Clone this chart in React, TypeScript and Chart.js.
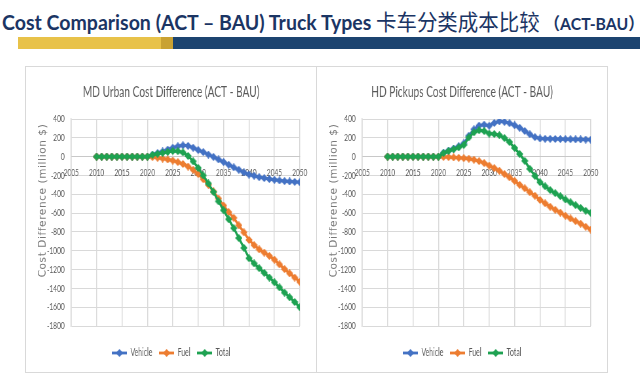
import React, { useEffect, useRef } from "react";
import { Chart, registerables } from "chart.js";

Chart.register(...registerables);

// ---------- data ----------
const years = [
  2010, 2011, 2012, 2013, 2014, 2015, 2016, 2017, 2018, 2019, 2020,
  2021, 2022, 2023, 2024, 2025, 2026, 2027, 2028, 2029, 2030,
  2031, 2032, 2033, 2034, 2035, 2036, 2037, 2038, 2039, 2040,
  2041, 2042, 2043, 2044, 2045, 2046, 2047, 2048, 2049, 2050,
];

const seriesNames = ["Vehicle", "Fuel", "Total"];

const mdVehicle = [
  0, 0, 0, 0, 0, 0, 0, 0, 0, 0, 0,
  20, 38, 55, 75, 95, 110, 120, 115, 95, 70,
  48, 22, -2, -30, -57, -86, -114, -140, -168, -190,
  -203, -218, -228, -238, -246, -253, -260, -264, -268, -272,
];
const mdFuel = [
  0, 0, 0, 0, 0, 0, 0, 0, 0, 0, 0,
  -5, -12, -20, -30, -42, -58, -78, -105, -140, -185,
  -240, -300, -370, -445, -520, -590, -650, -730, -805, -885,
  -940, -985, -1020, -1055, -1095, -1145, -1195, -1240, -1285, -1330,
];
const mdTotal = [
  0, 0, 0, 0, 0, 0, 0, 0, 0, 0, 0,
  20, 30, 40, 50, 60, 58, 45, 8, -50, -120,
  -200, -285, -375, -475, -570, -665, -760, -865, -970, -1080,
  -1135, -1185, -1235, -1285, -1335, -1390, -1445, -1495, -1545, -1600,
];

const hdVehicle = [
  0, 0, 0, 0, 0, 0, 0, 0, 0, 0, 0,
  41, 65, 86, 110, 141, 222, 290, 330, 340, 328,
  358, 375, 370, 356, 334, 307, 273, 238, 208, 193,
  190, 189, 188, 187, 186, 185, 184, 183, 182, 180,
];
const hdFuel = [
  0, 0, 0, 0, 0, 0, 0, 0, 0, 0, 0,
  -3, -5, -8, -12, -16, -22, -32, -48, -68, -95,
  -122, -150, -185, -220, -258, -300, -336, -378, -415, -460,
  -496, -532, -565, -595, -628, -657, -685, -712, -745, -775,
];
const hdTotal = [
  0, 0, 0, 0, 0, 0, 0, 0, 0, 0, 0,
  38, 60, 78, 98, 125, 205, 258, 280, 272, 245,
  240, 228, 198, 155, 92, 28, -45, -130, -205, -272,
  -315, -355, -388, -420, -455, -485, -515, -545, -575, -598,
];

const yTickMin = -1800;
const yTickMax = 400;
const yTickStep = 200;
const xTickMin = 2005;
const xTickMax = 2050;
const xTickStep = 5;

const mdTitle = "MD Urban Cost Difference (ACT - BAU)";
const hdTitle = "HD Pickups Cost Difference (ACT - BAU)";
const yAxisTitle = "Cost Difference (million $)";

// ---------- style ----------
const COLORS = ["#4472C4", "#ED7D31", "#1EA252"];
const GRID = "#d9d9d9";
const TEXT = "#595959";
const FONT = "Lato, sans-serif";
const SQ = 0.655; // horizontal squish of the chart pictures
const PANEL_W = 292;
const PANEL_H = 307;
const CW = Math.round((PANEL_W - 2) / SQ);
const CH = PANEL_H - 2;

function makeDiamond(color: string) {
  const c = document.createElement("canvas");
  c.width = 11;
  c.height = 8;
  const ctx = c.getContext("2d")!;
  ctx.fillStyle = color;
  ctx.beginPath();
  ctx.moveTo(0, 4);
  ctx.lineTo(5.5, 0);
  ctx.lineTo(11, 4);
  ctx.lineTo(5.5, 8);
  ctx.closePath();
  ctx.fill();
  return c;
}

function makeLegendIcon(color: string) {
  const c = document.createElement("canvas");
  c.width = 23;
  c.height = 8;
  const ctx = c.getContext("2d")!;
  ctx.strokeStyle = color;
  ctx.lineWidth = 2.8;
  ctx.beginPath();
  ctx.moveTo(0, 4);
  ctx.lineTo(23, 4);
  ctx.stroke();
  ctx.fillStyle = color;
  ctx.beginPath();
  ctx.moveTo(6, 4);
  ctx.lineTo(11.5, 0);
  ctx.lineTo(17, 4);
  ctx.lineTo(11.5, 8);
  ctx.closePath();
  ctx.fill();
  return c;
}

// vertical axis title, drawn un-squished so it keeps its proportions
const yTitlePlugin = {
  id: "yTitleUnsquished",
  afterDraw(chart: any) {
    const { ctx, chartArea } = chart;
    ctx.save();
    ctx.translate(chartArea.left - 43, (chartArea.top + chartArea.bottom) / 2 - 22);
    ctx.scale(1 / SQ, 1);
    ctx.rotate(-Math.PI / 2);
    ctx.font = '10.5px "DejaVu Sans", sans-serif';
    try {
      (ctx as any).letterSpacing = "0.6px";
    } catch (e) {}
    ctx.fillStyle = "#787878";
    ctx.textAlign = "center";
    ctx.textBaseline = "middle";
    ctx.fillText(yAxisTitle, 0, 0);
    ctx.restore();
  },
};

function ChartPanel(props: { left: number; title: string; series: number[][] }) {
  const ref = useRef<HTMLCanvasElement | null>(null);
  useEffect(() => {
    if (!ref.current) return;
    const diamonds = COLORS.map(makeDiamond);
    const icons = COLORS.map(makeLegendIcon);
    const datasets = props.series.map((vals, i) => ({
      label: seriesNames[i],
      data: years.map((x, j) => ({ x, y: vals[j] })),
      borderColor: COLORS[i],
      backgroundColor: COLORS[i],
      borderWidth: 3,
      pointStyle: diamonds[i] as any,
      pointRadius: 3,
      tension: 0,
      order: 3 - i,
    }));
    const chart = new Chart(ref.current, {
      type: "line",
      data: { datasets },
      plugins: [yTitlePlugin],
      options: {
        animation: false,
        responsive: false,
        devicePixelRatio: 1,
        layout: { padding: { left: 0, right: 0, top: 0, bottom: 3.75 } },
        scales: {
          x: {
            type: "linear",
            position: { y: 0 } as any,
            min: xTickMin,
            max: xTickMax,
            grid: { color: GRID, lineWidth: 1 / SQ, drawTicks: false },
            border: { display: true, color: "#c8c8c8", width: 1 },
            ticks: {
              stepSize: xTickStep,
              autoSkip: false,
              maxRotation: 0,
              padding: 10,
              color: TEXT,
              font: { family: FONT, size: 10 },
              callback: (v: any) => String(v),
            },
          },
          y: {
            type: "linear",
            min: yTickMin,
            max: yTickMax,
            afterFit: (scale: any) => {
              scale.width = 69;
            },
            grid: { color: GRID, lineWidth: 1, drawTicks: false },
            border: { display: true, color: GRID, width: 1 / SQ },
            ticks: {
              stepSize: yTickStep,
              padding: 10,
              color: TEXT,
              font: { family: FONT, size: 10 },
              callback: (v: any) => String(v),
            },
            title: { display: false },
          },
          // empty right-hand margin of the plot (keeps title and legend centred in the panel)
          yMargin: {
            type: "linear",
            position: "right",
            display: true,
            min: yTickMin,
            max: yTickMax,
            afterFit: (scale: any) => {
              scale.width = 25;
            },
            grid: { display: false, drawTicks: false },
            border: { display: false },
            ticks: { display: false },
          },
        },
        plugins: {
          title: {
            display: true,
            text: props.title,
            color: TEXT,
            font: { family: FONT, size: 15.5, weight: "normal" },
            padding: { top: 15.7, bottom: 17.7 },
          },
          legend: {
            position: "bottom",
            title: { display: true, text: "", font: { size: 7.7 }, padding: { top: 1, bottom: 1 } },
            labels: {
              usePointStyle: true,
              pointStyleWidth: 23,
              padding: 10.5,
              color: TEXT,
              font: { family: FONT, size: 10.5 },
              generateLabels: (ch: any) => {
                const items = Chart.defaults.plugins.legend.labels.generateLabels(ch);
                items.sort((a: any, b: any) => a.datasetIndex - b.datasetIndex);
                return items.map((it: any) => ({ ...it, pointStyle: icons[it.datasetIndex] }));
              },
            },
          },
          tooltip: { enabled: false },
        },
      } as any,
    });
    return () => chart.destroy();
  }, []);
  return (
    <div
      style={{
        position: "absolute",
        left: props.left,
        top: 66,
        width: PANEL_W,
        height: PANEL_H,
        boxSizing: "border-box",
        border: "1px solid #d9d9d9",
        background: "#fff",
        overflow: "hidden",
      }}
    >
      <canvas
        ref={ref}
        width={CW}
        height={CH}
        style={{
          position: "absolute",
          left: 0,
          top: 0,
          width: CW,
          height: CH,
          transform: `scaleX(${SQ})`,
          transformOrigin: "0 0",
        }}
      />
    </div>
  );
}

export default function App() {
  return (
    <div
      style={{
        position: "fixed",
        left: 0,
        top: 0,
        width: 640,
        height: 389,
        background: "#fff",
        overflow: "hidden",
      }}
    >
      <div
        style={{
          position: "absolute",
          left: 2,
          top: 8,
          whiteSpace: "nowrap",
          color: "#1B3564",
          fontFamily: 'Lato, "Noto Sans CJK SC", sans-serif',
          fontSize: 21,
          lineHeight: "24px",
          transform: "scaleX(0.93)",
          transformOrigin: "0 0",
        }}
      >
        <span style={{ fontWeight: 700 }}>Cost Comparison (ACT – BAU) Truck Types</span>
        <span style={{ fontFamily: '"Noto Sans CJK SC", sans-serif', fontWeight: 400, fontSize: 22 }}> 卡车分类成本比较 </span>
        <span style={{ fontWeight: 700, fontSize: 17 }}>（ACT-BAU）</span>
      </div>
      <div style={{ position: "absolute", left: 18, top: 37, width: 143, height: 12, background: "#E8C249" }} />
      <div style={{ position: "absolute", left: 161, top: 37, width: 12, height: 12, background: "#C9A233" }} />
      <div style={{ position: "absolute", left: 173, top: 37, width: 467, height: 12, background: "#1C4470" }} />
      <ChartPanel left={25} title={mdTitle} series={[mdVehicle, mdFuel, mdTotal]} />
      <ChartPanel left={316} title={hdTitle} series={[hdVehicle, hdFuel, hdTotal]} />
    </div>
  );
}
